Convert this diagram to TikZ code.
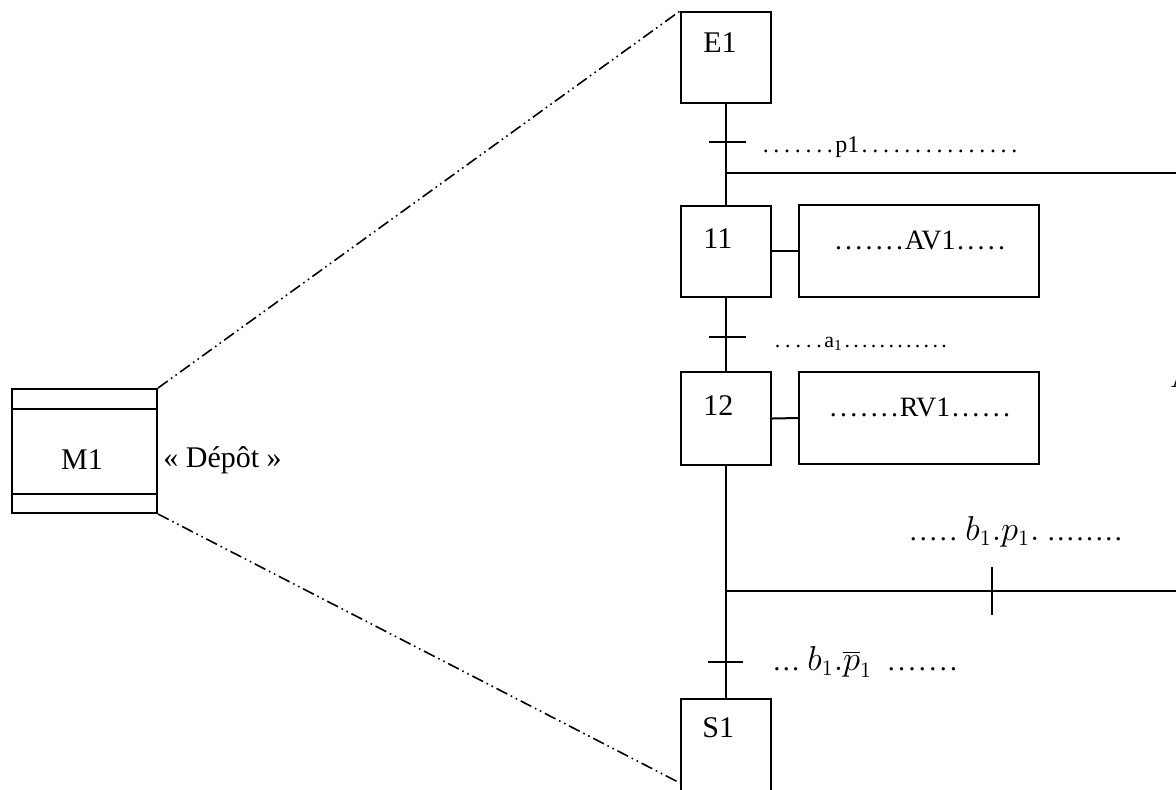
\documentclass[tikz,border=0pt]{standalone}
\usepackage{fontspec}
\setmainfont{Liberation Serif}
\usetikzlibrary{calc}
\newcommand\dotrow[2]{\cleaders\hbox to #2{\hss.\hss}\hskip\dimexpr#2*#1\relax\kern0pt}
\begin{document}
\begin{tikzpicture}[x=0.5pt,y=-0.5pt,
  line/.style={line width=1pt},
  stepbox/.style={draw, line width=1pt, minimum width=45pt, minimum height=45.5pt, inner sep=0pt},
  actbox/.style={draw, line width=1pt, minimum width=120pt, minimum height=46pt, inner sep=0pt},
  steplbl/.style={font=\fontsize{15}{18}\selectfont, anchor=west, inner sep=0pt},
  actlbl/.style={font=\fontsize{14}{17}\selectfont, inner sep=0pt},
  trlbl/.style={anchor=base west, inner sep=0pt},
  ddot/.style={line width=0.8pt, dash pattern=on 6pt off 2pt on 0.8pt off 2pt on 0.8pt off 2pt}]
\useasboundingbox (0,0) rectangle (1176,789);

% macro-step M1
\node[draw, line width=1pt, minimum width=72.5pt, minimum height=62pt, inner sep=0pt] (M1) at (84.5,451) {};
\draw[line] ([yshift=-10.5pt]M1.north west) -- ([yshift=-10.5pt]M1.north east);
\draw[line] ([yshift=10pt]M1.south west) -- ([yshift=10pt]M1.south east);
\node[font=\fontsize{15}{18}\selectfont, inner sep=0pt] (M1t) at (82,460) {M1};
\node[font=\fontsize{15}{18}\selectfont, anchor=west, inner sep=0pt] (dep) at (163,460) {«~Dépôt~»};

% steps
\node[stepbox] (E1) at (726,57.5) {};
\node[steplbl] (E1t) at (703,43) {E1};
\node[stepbox] (S11) at (726,251) {};
\node[steplbl] (S11t) at (703,239) {11};
\node[stepbox, minimum height=46.5pt] (S12) at (726,418.5) {};
\node[steplbl] (S12t) at (703,406) {12};
\node[stepbox, minimum height=46.5pt] (S1) at (726,745) {};
\node[steplbl] (S1t) at (702,728) {S1};

% actions
\node[actbox] (A11) at (919,251) {};
\node[actlbl] (A11t) at (920,240) {\dotrow{7}{5.1pt}AV1\dotrow{5}{5.1pt}};
\node[actbox] (A12) at (919,418) {};
\node[actlbl] (A12t) at (920,407) {\dotrow{7}{5.1pt}RV1\dotrow{6}{5.1pt}};
\draw[line] (S11.east) -- (A11.west);
\draw[line] (S12.east) -- (A12.west);

% links
\draw[line] (E1.south) -- (S11.north);
\draw[line] (S11.south) -- (S12.north);
\draw[line] (S12.south) -- (S1.north);

% transitions
\coordinate (t1) at (726,142);
\draw[line] ([xshift=-8.5pt]t1) -- ([xshift=10pt]t1);
\coordinate (t2) at (726,337);
\draw[line] ([xshift=-8.5pt]t2) -- ([xshift=10pt]t2);
\coordinate (t3) at (726,662);
\draw[line] ([xshift=-9pt]t3) -- ([xshift=8.5pt]t3);

% branches
\coordinate (br1) at (726,173);
\coordinate (br1e) at (1176,173);
\draw[line] (br1) -- (br1e);
\coordinate (br2) at (726,591);
\coordinate (br2e) at (1176,591);
\draw[line] (br2) -- (br2e);
\coordinate (t4) at (992,591);
\draw[line] ([yshift=12pt]t4) -- ([yshift=-12pt]t4);

% receptivities
\node[trlbl, font=\fontsize{12}{14}\selectfont] (r1) at (760,152) {\dotrow{7}{5.35pt}p1\dotrow{15}{5.35pt}};
\node[trlbl, font=\fontsize{11}{13}\selectfont] (r2) at (772,347) {\dotrow{5}{5.2pt}a\textsubscript{1}\dotrow{12}{4.4pt}};
\node[trlbl, font=\fontsize{14}{17}\selectfont] (r3) at (908,540) {\dotrow{5}{5pt}\ {\fontsize{16}{19}\selectfont$b_1.p_1.$}\ \dotrow{8}{4.8pt}};
\node[trlbl, font=\fontsize{14}{17}\selectfont] (r4) at (772,670) {\ldots\ {\fontsize{16}{19}\selectfont$b_1.\overline{p}_1$}\ \ \dotrow{7}{5.2pt}};

% cut-off letter at right edge
\node[font=\fontsize{15}{18}\selectfont, anchor=base west, inner sep=0pt] (Acut) at (1171,387) {A};

% zoom lines
\draw[ddot] (M1.north east) -- (E1.north west);
\draw[ddot] (M1.south east) -- ($(S1.north west)!0.9!(S1.south west)$);
\end{tikzpicture}
\end{document}
